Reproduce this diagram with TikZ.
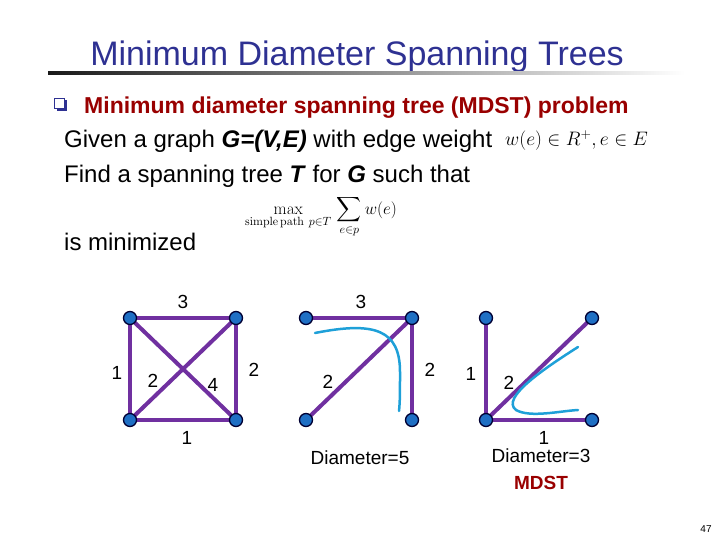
\documentclass[tikz,border=0pt]{standalone}
\usepackage{fix-cm}
\usepackage{amsmath}
\usepackage[no-math]{fontspec}
\setmainfont{Liberation Sans}
\definecolor{titleblue}{RGB}{46,49,146}
\definecolor{darkred}{RGB}{153,0,0}
\definecolor{edgepurple}{RGB}{112,48,160}
\definecolor{nodeblue}{RGB}{31,111,196}
\definecolor{curvecyan}{RGB}{30,160,216}
\tikzset{
  vtx/.style={circle,draw=black!80!blue,line width=1.3pt,fill=nodeblue,minimum size=13pt,inner sep=0pt},
  edg/.style={draw=edgepurple,line width=4pt},
  lbl/.style={font=\fontsize{19}{22}\selectfont,inner sep=0pt},
  body/.style={font=\fontsize{24}{28}\selectfont,anchor=base west,inner sep=0pt},
  cyancurve/.style={draw=curvecyan,line width=2.5pt,line cap=round}
}
\begin{document}
\begin{tikzpicture}[x=1pt,y=-1pt]
\useasboundingbox (0,0) rectangle (720,540);
% title
\node[font=\fontsize{34}{40}\selectfont,text=titleblue,anchor=base,inner sep=0pt] (title) at (357,66) {Minimum Diameter Spanning Trees};
\shade[left color=black!90,right color=white] (48,71.5) rectangle (685,75);
% bullet
\fill[titleblue] (56.5,100.5) rectangle (67,111);
\filldraw[fill=white,draw=titleblue,line width=0.8pt] (54,98) rectangle (64.5,108.5);
\node[body,font=\fontsize{23}{27}\selectfont\bfseries,text=darkred] (h) at (84,114) {Minimum diameter spanning tree (MDST) problem};
\node[body] (l1) at (64,148) {Given a graph \textbf{\textit{G=(V,E)}} with edge weight};
\node[anchor=base west,inner sep=0pt,font=\fontsize{19.5}{23}\selectfont] (wf) at (505,146) {$w(e)\in R^{+}, e\in E$};
\node[body] (l2) at (64,183) {Find a spanning tree \textbf{\textit{T}} for \textbf{\textit{G}} such that};
\node[anchor=center,inner sep=0pt,font=\fontsize{17}{21}\selectfont] (form) at (321,217) {$\displaystyle\max_{\mathrm{simple\,path}\ p\in T}\,\sum_{e\in p} w(e)$};
\node[body] (l3) at (64,251) {is minimized};
% graph 1
\coordinate (a1) at (130,318);
\coordinate (b1) at (236,318);
\coordinate (c1) at (130,420);
\coordinate (d1) at (236,420);
\draw[edg] (a1) -- (b1);
\draw[edg] (a1) -- (c1);
\draw[edg] (b1) -- (d1);
\draw[edg] (c1) -- (d1);
\draw[edg] (a1) -- (d1);
\draw[edg] (c1) -- (b1);
\foreach \n in {a1,b1,c1,d1} \node[vtx] at (\n) {};
\node[lbl] (g1l1) at (183,302) {3};
\node[lbl] (g1l2) at (117,373) {1};
\node[lbl] (g1l3) at (153,381) {2};
\node[lbl] (g1l4) at (213,385) {4};
\node[lbl] (g1l5) at (254,370) {2};
\node[lbl] (g1l6) at (187,438) {1};
% graph 2
\coordinate (a2) at (306,318);
\coordinate (b2) at (412,318);
\coordinate (c2) at (306,420);
\coordinate (d2) at (412,420);
\draw[edg] (a2) -- (b2);
\draw[edg] (c2) -- (b2);
\draw[edg] (b2) -- (d2);
\draw[cyancurve] (315,333) .. controls (375,321) and (400,330) .. (400,372) .. controls (400,392) and (400,402) .. (399,411);
\foreach \n in {a2,b2,c2,d2} \node[vtx] at (\n) {};
\node[lbl] (g2l1) at (361,302) {3};
\node[lbl] (g2l2) at (328,382) {2};
\node[lbl] (g2l3) at (430,370) {2};
\node[lbl] (g2d) at (360,458) {Diameter=5};
% graph 3
\coordinate (a3) at (486,318);
\coordinate (b3) at (592,318);
\coordinate (c3) at (486,420);
\coordinate (d3) at (592,420);
\draw[edg] (a3) -- (c3);
\draw[edg] (c3) -- (b3);
\draw[edg] (c3) -- (d3);
\draw[cyancurve] (578,347) .. controls (545,368) and (500,398) .. (516,410) .. controls (530,418) and (560,411) .. (578,410);
\foreach \n in {a3,b3,c3,d3} \node[vtx] at (\n) {};
\node[lbl] (g3l1) at (471,374) {1};
\node[lbl] (g3l2) at (509,383) {2};
\node[lbl] (g3l3) at (544,438) {1};
\node[lbl] (g3d) at (541,456) {Diameter=3};
\node[lbl,font=\fontsize{19}{22}\selectfont\bfseries,text=darkred] (mdst) at (541,483) {MDST};
\node[font=\fontsize{10}{12}\selectfont,inner sep=0pt] (pg) at (706,529) {47};
\end{tikzpicture}
\end{document}
